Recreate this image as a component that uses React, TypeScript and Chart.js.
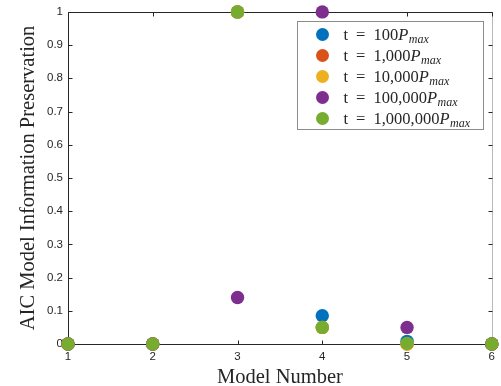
import React, { useEffect, useRef } from "react";
import { Chart, registerables } from "chart.js";

Chart.register(...registerables);

const modelNumbers = [1, 2, 3, 4, 5, 6];
const seriesLabels = ["100", "1,000", "10,000", "100,000", "1,000,000"];
const seriesColors = ["#0072BD", "#D95319", "#EDB120", "#7E2F8E", "#77AC30"];
const t100 = [0, 0, 1, 0.085, 0.008, 0];
const t1000 = [0, 0, 1, 0.05, 0, 0];
const t10000 = [0, 0, 1, 0.05, 0, 0];
const t100000 = [0, 0, 0.14, 1, 0.05, 0];
const t1000000 = [0, 0, 1, 0.05, 0.002, 0];
const seriesValues = [t100, t1000, t10000, t100000, t1000000];
const yTicks = [0, 0.1, 0.2, 0.3, 0.4, 0.5, 0.6, 0.7, 0.8, 0.9, 1];
const xTitle = "Model Number";
const yTitle = "AIC Model Information Preservation";

const AXIS = "#262626";
const SERIF = '"Liberation Serif", "DejaVu Serif", serif';
const SANS = '"Liberation Sans", Arial, sans-serif';

const matlabPlugin = {
  id: "matlabAxes",
  beforeDatasetsDraw(chart: any) {
    const { ctx, chartArea: a, scales } = chart;
    const x = scales.x;
    const y = scales.y;
    const L = Math.round(a.left) + 0.5;
    const R = Math.round(a.right) + 0.5;
    const T = Math.round(a.top) + 0.5;
    const B = Math.round(a.bottom) + 0.5;
    ctx.save();
    ctx.lineWidth = 1;
    ctx.strokeStyle = "#b8b8b8";
    ctx.beginPath();
    ctx.moveTo(R, T);
    ctx.lineTo(R, B);
    ctx.stroke();
    ctx.strokeStyle = AXIS;
    ctx.beginPath();
    ctx.moveTo(L, T);
    ctx.lineTo(R, T);
    ctx.moveTo(L, T);
    ctx.lineTo(L, B);
    ctx.lineTo(R, B);
    const tl = 4;
    x.ticks.forEach((t: any) => {
      const px = Math.round(x.getPixelForValue(t.value)) + 0.5;
      ctx.moveTo(px, B);
      ctx.lineTo(px, B - tl);
      ctx.moveTo(px, T);
      ctx.lineTo(px, T + tl);
    });
    y.ticks.forEach((t: any) => {
      const py = Math.round(y.getPixelForValue(t.value)) + 0.5;
      ctx.moveTo(L, py);
      ctx.lineTo(L + tl, py);
      ctx.moveTo(R, py);
      ctx.lineTo(R - tl, py);
    });
    ctx.stroke();

    ctx.fillStyle = AXIS;
    ctx.font = `20.5px ${SERIF}`;
    ctx.textAlign = "center";
    ctx.textBaseline = "alphabetic";
    ctx.fillText(xTitle, (a.left + a.right) / 2, 383);
    ctx.save();
    ctx.translate(34, (a.top + a.bottom) / 2);
    ctx.rotate(-Math.PI / 2);
    ctx.fillText(yTitle, 0, 0);
    ctx.restore();
    ctx.restore();
  },
  afterDraw(chart: any) {
    const { ctx, chartArea: a } = chart;
    const lx = Math.round(a.right) - 195 + 0.5;
    const ly = Math.round(a.top) + 9 + 0.5;
    const lw = 186;
    const lh = 108;
    ctx.save();
    ctx.fillStyle = "#ffffff";
    ctx.fillRect(lx, ly, lw, lh);
    ctx.strokeStyle = "#8c8c8c";
    ctx.lineWidth = 1;
    ctx.strokeRect(lx, ly, lw, lh);
    seriesLabels.forEach((lab, i) => {
      const cy = ly + 13 + i * 21;
      ctx.fillStyle = seriesColors[i];
      ctx.beginPath();
      ctx.arc(lx + 25, cy, 6.5, 0, Math.PI * 2);
      ctx.fill();
      ctx.fillStyle = AXIS;
      ctx.textAlign = "left";
      ctx.textBaseline = "alphabetic";
      const base = cy + 5;
      let tx = lx + 46;
      ctx.font = `16.5px ${SERIF}`;
      ctx.fillText("t", tx, base);
      tx += ctx.measureText("t").width + 8;
      ctx.fillText("=", tx, base);
      tx += ctx.measureText("=").width + 8;
      ctx.fillText(lab, tx, base);
      tx += ctx.measureText(lab).width;
      ctx.font = `italic 16.5px ${SERIF}`;
      ctx.fillText("P", tx, base);
      tx += ctx.measureText("P").width + 0.5;
      ctx.font = `italic 12px ${SERIF}`;
      ctx.fillText("max", tx, base + 3);
    });
    ctx.restore();
  },
};

export default function App() {
  const ref = useRef<HTMLCanvasElement | null>(null);
  useEffect(() => {
    if (!ref.current) return;
    const datasets = seriesValues.map((vals, i) => ({
      label: seriesLabels[i],
      data: modelNumbers.map((m, j) => ({ x: m, y: vals[j] })),
      backgroundColor: seriesColors[i],
      borderColor: seriesColors[i],
      borderWidth: 0,
      pointRadius: 6.7,
      pointHoverRadius: 6.7,
      showLine: false,
      clip: false as any,
      order: seriesValues.length - i,
    }));
    const chart = new Chart(ref.current, {
      type: "scatter",
      data: { datasets },
      plugins: [matlabPlugin],
      options: {
        animation: false,
        responsive: false,
        layout: { padding: { top: 11, right: 9, left: 0, bottom: 0 } },
        plugins: { legend: { display: false }, tooltip: { enabled: false } },
        scales: {
          x: {
            type: "linear",
            min: 1,
            max: 6,
            grid: { display: false, drawTicks: false },
            border: { display: false },
            ticks: {
              stepSize: 1,
              padding: 6,
              color: AXIS,
              font: { family: SANS, size: 11.5 },
              maxRotation: 0,
            },
            afterFit: (s: any) => {
              s.height = 42;
            },
          },
          y: {
            type: "linear",
            min: 0,
            max: 1,
            grid: { display: false, drawTicks: false },
            border: { display: false },
            afterBuildTicks: (s: any) => {
              s.ticks = yTicks.map((v) => ({ value: v }));
            },
            ticks: {
              padding: 5,
              color: AXIS,
              font: { family: SANS, size: 11.5 },
              callback: (v: any) => String(Math.round(Number(v) * 10) / 10),
            },
            afterFit: (s: any) => {
              s.width = 68;
            },
          },
        },
      },
    });
    return () => chart.destroy();
  }, []);
  return (
    <div style={{ position: "absolute", left: 0, top: 0, width: 501, height: 386 }}>
      <canvas ref={ref} width={501} height={386} />
    </div>
  );
}
